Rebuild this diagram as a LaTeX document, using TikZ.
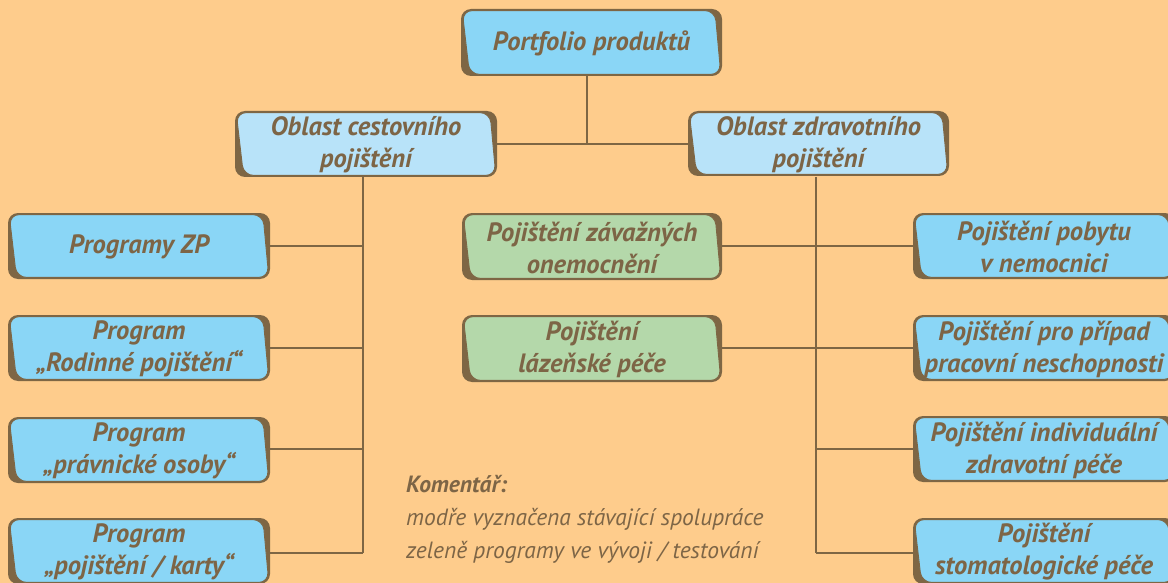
\documentclass[tikz,border=0pt]{standalone}
\usepackage{fontspec}
\setmainfont{PT Sans}
\usetikzlibrary{calc}
\definecolor{bgc}{RGB}{254,204,140}
\definecolor{brownc}{RGB}{126,102,68}
\definecolor{textc}{RGB}{125,101,70}
\definecolor{bluec}{RGB}{138,214,246}
\definecolor{lbluec}{RGB}{184,227,249}
\definecolor{greenc}{RGB}{180,216,170}
\tikzset{
  shadowbox/.style={fill=brownc, rounded corners=10pt},
  facebox/.style={draw=brownc, line width=0.9pt, rounded corners=10pt},
  boxtext/.style={inner sep=0pt, align=center, text=textc,
    font=\fontsize{26.5}{32}\selectfont\bfseries\itshape},
  conn/.style={draw=brownc, line width=2pt},
}
% #1 name, #2 left, #3 top, #4 right, #5 bottom, #6 fill, #7 text
\newcommand\pbox[7]{%
  \fill[shadowbox] (#2,#3) rectangle (#4,#5);
  \fill[facebox, fill=#6] (#2+1.2,#3+1.6) -- (#4-7,#3+1.6) -- (#4-1.2,#5-1.6) -- (#2+8.5,#5-1.6) -- cycle;
  \node[boxtext, minimum width={#4-#2}, minimum height={#5-#3}] (#1) at ({(#2+#4)/2},{(#3+#5)/2+1}) {#7};
}
\begin{document}
\begin{tikzpicture}[x=1pt,y=-1pt]
\fill[bgc] (0,0) rectangle (1168,583);
\useasboundingbox (0,0) rectangle (1168,583);
\clip (0,0) rectangle (1168,583);
% connectors first (below boxes)
\coordinate (top) at (587,76);
\coordinate (tL) at (363,177);
\coordinate (tR) at (816,177);
\draw[conn] (top) -- (587,144);
\draw[conn] (497,144) -- (688,144);
\draw[conn] (tL) -- (363,553);
\draw[conn] (tR) -- (816,553);
\foreach \y in {246,348,449,553} {
  \draw[conn] (270,\y) -- (363,\y);
  \draw[conn] (816,\y) -- (913,\y);
}
\draw[conn] (722,246) -- (816,246);
\draw[conn] (722,348) -- (816,348);
% boxes
\pbox{portfolio}{461}{9}{722}{76}{bluec}{Portfolio produktů}
\pbox{oblC}{235}{111}{497}{177}{lbluec}{Oblast cestovního\\pojištění}
\pbox{oblZ}{688}{111}{949}{176}{lbluec}{Oblast zdravotního\\pojištění}
\pbox{zp}{8}{213}{270}{279}{bluec}{Programy ZP}
\pbox{rod}{8}{315}{270}{381}{bluec}{Program\\„Rodinné pojištění“}
\pbox{prav}{8}{417}{270}{483}{bluec}{Program\\„právnické osoby“}
\pbox{karty}{8}{518}{270}{584}{bluec}{Program\\„pojištění / karty“}
\pbox{zav}{462}{213}{722}{280}{greenc}{Pojištění závažných\\onemocnění}
\pbox{laz}{462}{315}{722}{382}{greenc}{Pojištění\\lázeňské péče}
\pbox{pob}{913}{213}{1175}{279}{bluec}{Pojištění pobytu\\v nemocnici}
\pbox{prip}{913}{315}{1175}{381}{bluec}{Pojištění pro případ\\pracovní neschopnosti}
\pbox{ind}{913}{416}{1175}{482}{bluec}{Pojištění individuální\\zdravotní péče}
\pbox{stom}{913}{518}{1175}{584}{bluec}{Pojištění\\stomatologické péče}
% comment
\node[anchor=base west, align=left, inner sep=0pt, text=textc,
  font=\fontsize{23.5}{33}\selectfont\itshape] (comment) at (406,558)
  {{\bfseries Komentář:}\\modře vyznačena stávající spolupráce\\zeleně programy ve vývoji / testování};
\end{tikzpicture}
\end{document}
